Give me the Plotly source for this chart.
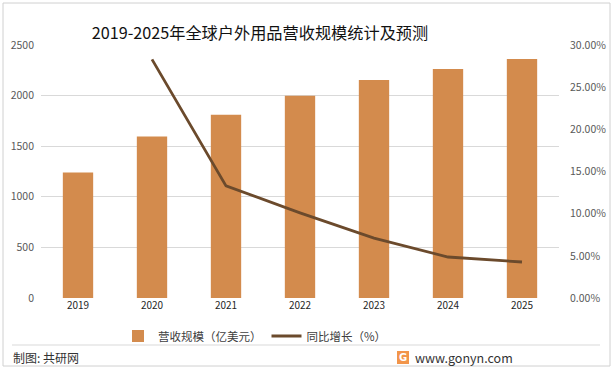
import plotly.graph_objects as go

years = ["2019", "2020", "2021", "2022", "2023", "2024", "2025"]
revenue = [1240, 1595, 1810, 1998, 2155, 2263, 2362]          # 营收规模（亿美元）
growth = [None, 0.283, 0.133, 0.101, 0.071, 0.0486, 0.0427]     # 同比增长（%）

left_ticks = [0, 500, 1000, 1500, 2000, 2500]
right_ticks = [0, 0.05, 0.10, 0.15, 0.20, 0.25, 0.30]

BAR = "#D38B4D"
LINE = "#6B4A2C"
FONT = "Noto Sans CJK SC"

W, H = 613, 370
L, R, T, B = 41, 54, 45, 72
pw, ph = W - L - R, H - T - B


def px(x):
    return (x - L) / pw


def py(y):
    return (H - B - y) / ph


fig = go.Figure()
fig.add_trace(go.Bar(
    x=years, y=revenue, name="营收规模（亿美元）",
    marker=dict(color=BAR, line=dict(width=0)),
    yaxis="y",
))
fig.add_trace(go.Scatter(
    x=years, y=growth, name="同比增长（%）", mode="lines",
    line=dict(color=LINE, width=2.8),
    yaxis="y2", connectgaps=False,
))

fig.update_layout(
    width=W, height=H,
    margin=dict(l=L, r=R, t=T, b=B, autoexpand=False),
    paper_bgcolor="white", plot_bgcolor="white",
    font=dict(family=FONT, color="#595959", size=10.5),
    bargap=0.59,
    showlegend=True,
    title=dict(
        text="2019-2025年全球户外用品营收规模统计及预测",
        x=260 / W, xanchor="center", y=1 - 33 / H, yanchor="middle",
        font=dict(size=16.2, color="#111111", family=FONT),
    ),
    xaxis=dict(
        type="category", showgrid=False, zeroline=False,
        showline=False, ticks="", automargin=False,
        tickfont=dict(size=10, color="#262626"),
    ),
    yaxis=dict(
        range=[0, 2500], tickvals=left_ticks, automargin=False,
        showgrid=True, gridcolor="#D9D9D9", gridwidth=1,
        zeroline=False, showline=False, ticks="",
        tickfont=dict(size=10.5, color="#595959"),
        ticklabelstandoff=6,
    ),
    yaxis2=dict(
        range=[0, 0.30], tickvals=right_ticks, tickformat=".2%",
        overlaying="y", side="right", showgrid=False, zeroline=False,
        showline=False, ticks="", automargin=False,
        tickfont=dict(size=10.5, color="#595959"),
        ticklabelstandoff=10,
    ),
    legend=dict(
        orientation="h", x=px(118), xanchor="left",
        y=py(336), yanchor="middle",
        font=dict(size=11.5, color="#404040"),
        bgcolor="rgba(0,0,0,0)",
    ),
)

# outer border
fig.add_shape(type="rect", xref="paper", yref="paper",
              x0=px(3), x1=px(610), y0=py(366), y1=py(3),
              line=dict(color="#D0D0D0", width=1), layer="below")
# separator line above footer
fig.add_shape(type="line", xref="paper", yref="paper",
              x0=px(12), x1=px(600), y0=py(345), y1=py(345),
              line=dict(color="#D9D9D9", width=1))

# footer texts
fig.add_annotation(text="制图: 共研网", xref="paper", yref="paper",
                   x=px(11), y=py(357), xanchor="left", yanchor="middle",
                   showarrow=False, font=dict(size=12, color="#333333", family=FONT))
fig.add_annotation(text="www.gonyn.com", xref="paper", yref="paper",
                   x=px(413), y=py(357), xanchor="left", yanchor="middle",
                   showarrow=False, font=dict(size=12.5, color="#333333", family=FONT))
# logo
fig.add_shape(type="rect", xref="paper", yref="paper",
              x0=px(397), x1=px(409), y0=py(364), y1=py(351),
              line=dict(width=0), fillcolor="#F2954A")
fig.add_annotation(text="<b>G</b>", xref="paper", yref="paper",
                   x=px(403), y=py(357.5), xanchor="center", yanchor="middle",
                   showarrow=False, font=dict(size=10, color="white", family="DejaVu Sans"))

fig.write_html("out.html", config={"displayModeBar": False},
               post_script="document.body.style.margin='0';document.body.style.overflow='hidden';")
